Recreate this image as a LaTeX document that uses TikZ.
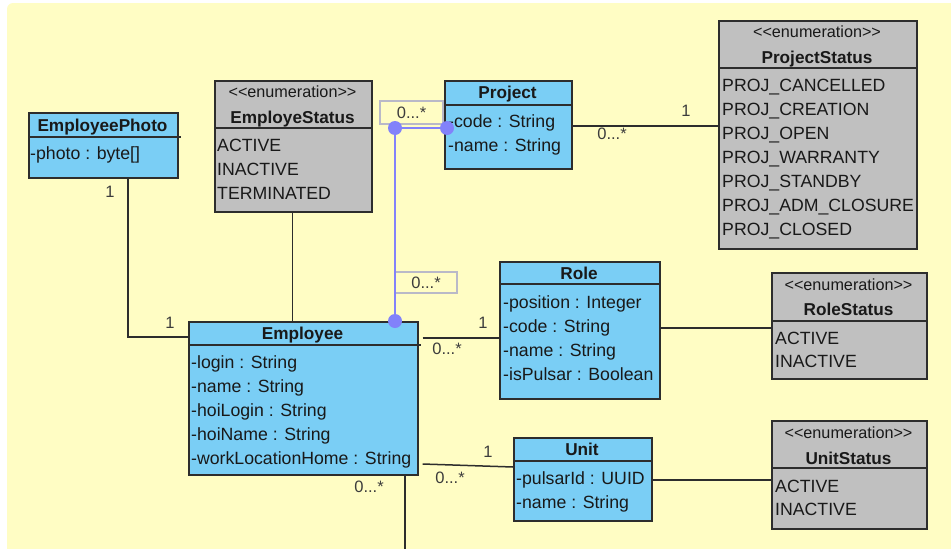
\documentclass[tikz,border=0pt]{standalone}
\usepackage{fontspec}
\setmainfont{Liberation Sans}
\usetikzlibrary{calc}

\definecolor{bgyellow}{RGB}{255,253,196}
\definecolor{clsblue}{RGB}{122,206,245}
\definecolor{enumgray}{RGB}{192,192,192}
\definecolor{boxline}{RGB}{45,45,45}
\definecolor{txt}{RGB}{25,25,25}
\definecolor{multtxt}{RGB}{60,60,60}
\definecolor{assocblue}{RGB}{130,130,250}
\definecolor{labelframe}{RGB}{185,185,200}

\tikzset{
  clsbox/.style={draw=boxline, line width=1.6pt, fill=clsblue, inner sep=0pt, anchor=north west},
  enumbox/.style={draw=boxline, line width=1.6pt, fill=enumgray, inner sep=0pt, anchor=north west},
  sepline/.style={draw=boxline, line width=1.6pt},
  member/.style={anchor=west, inner sep=0pt, text=txt, text height=12pt, text depth=0pt,
    font=\fontsize{17.7}{20}\selectfont},
  clstitle/.style={anchor=center, inner sep=0pt, text=txt, text height=12pt, text depth=0pt,
    font=\fontsize{17.2}{20}\selectfont\bfseries},
  stereo/.style={anchor=center, inner sep=0pt, text=txt, text height=9pt, text depth=0pt,
    font=\fontsize{16.2}{18}\selectfont},
  mult/.style={anchor=center, inner sep=0pt, text=multtxt, text height=11pt, text depth=0pt,
    font=\fontsize{16.5}{18}\selectfont},
  multframe/.style={draw=labelframe, line width=1.2pt, fill=bgyellow, inner sep=0pt,
    text=multtxt, font=\fontsize{16.5}{18}\selectfont},
  link/.style={draw=boxline, line width=1.5pt},
  pinlink/.style={draw=assocblue, line width=1.5pt},
  pin/.style={fill=assocblue},
}

\begin{document}
\begin{tikzpicture}[x=1pt, y=-1pt]
\useasboundingbox (0,0) rectangle (951,549);
\fill[white] (0,0) rectangle (951,549);
\begin{scope}
  \clip (0,0) rectangle (951,549);
  \fill[bgyellow, rounded corners=6pt] (7,3) rectangle (965,565);
\end{scope}

% ---------- EmployeePhoto ----------
\node[clsbox, minimum width=149pt, minimum height=65pt] (photo) at (28,112) {};
\draw[sepline] (photo.west |- 0,137) -- ([xshift=2pt]photo.east |- 0,137);
\node[clstitle] (photo-t) at (102.5,125.5) {EmployeePhoto};
\node[member] (photo-a1) at (30,153) {-photo : byte[]};

% ---------- EmployeStatus ----------
\node[enumbox, minimum width=157pt, minimum height=131pt] (estat) at (214,80) {};
\draw[sepline] (estat.west |- 0,128) -- (estat.east |- 0,128);
\node[stereo] (estat-s) at (292.5,93) {<{}<enumeration>{}>};
\node[clstitle] (estat-t) at (292.5,117.5) {EmployeStatus};
\node[member] (estat-1) at (217,145) {ACTIVE};
\node[member] (estat-2) at (217,169) {INACTIVE};
\node[member] (estat-3) at (217,193) {TERMINATED};

% ---------- Project ----------
\node[clsbox, minimum width=127pt, minimum height=88pt] (proj) at (444,80) {};
\draw[sepline] (proj.west |- 0,105) -- (proj.east |- 0,105);
\node[clstitle] (proj-t) at (507.5,92.5) {Project};
\node[member] (proj-a1) at (448,121.5) {-code : String};
\node[member] (proj-a2) at (448,145.5) {-name : String};

% ---------- ProjectStatus ----------
\node[enumbox, minimum width=198pt, minimum height=228pt] (pstat) at (718,20) {};
\draw[sepline] (pstat.west |- 0,68) -- (pstat.east |- 0,68);
\node[stereo] (pstat-s) at (817,33) {<{}<enumeration>{}>};
\node[clstitle] (pstat-t) at (817,57.5) {ProjectStatus};
\node[member] (pstat-1) at (722,85) {PROJ\_CANCELLED};
\node[member] (pstat-2) at (722,109) {PROJ\_CREATION};
\node[member] (pstat-3) at (722,133) {PROJ\_OPEN};
\node[member] (pstat-4) at (722,157) {PROJ\_WARRANTY};
\node[member] (pstat-5) at (722,181) {PROJ\_STANDBY};
\node[member] (pstat-6) at (722,205) {PROJ\_ADM\_CLOSURE};
\node[member] (pstat-7) at (722,229) {PROJ\_CLOSED};

% ---------- Employee ----------
\node[clsbox, minimum width=229pt, minimum height=153pt] (emp) at (188,321) {};
\draw[sepline] (emp.west |- 0,345) -- ([xshift=2pt]emp.east |- 0,345);
\node[clstitle] (emp-t) at (302.5,333) {Employee};
\node[member] (emp-a1) at (191,362) {-login : String};
\node[member] (emp-a2) at (191,386) {-name : String};
\node[member] (emp-a3) at (191,410) {-hoiLogin : String};
\node[member] (emp-a4) at (191,434) {-hoiName : String};
\node[member] (emp-a5) at (191,458) {-workLocationHome : String};

% ---------- Role ----------
\node[clsbox, minimum width=160pt, minimum height=137pt] (role) at (499,261) {};
\draw[sepline] (role.west |- 0,284) -- (role.east |- 0,284);
\node[clstitle] (role-t) at (579,273) {Role};
\node[member] (role-a1) at (503,302) {-position : Integer};
\node[member] (role-a2) at (503,326) {-code : String};
\node[member] (role-a3) at (503,350) {-name : String};
\node[member] (role-a4) at (503,374) {-isPulsar : Boolean};

% ---------- Unit ----------
\node[clsbox, minimum width=138pt, minimum height=83pt] (unit) at (513,437) {};
\draw[sepline] (unit.west |- 0,461) -- (unit.east |- 0,461);
\node[clstitle] (unit-t) at (582,449.5) {Unit};
\node[member] (unit-a1) at (516,478) {-pulsarId : UUID};
\node[member] (unit-a2) at (516,502) {-name : String};

% ---------- RoleStatus ----------
\node[enumbox, minimum width=155pt, minimum height=106pt] (rstat) at (771,272) {};
\draw[sepline] (rstat.west |- 0,321) -- (rstat.east |- 0,321);
\node[stereo] (rstat-s) at (848.5,286) {<{}<enumeration>{}>};
\node[clstitle] (rstat-t) at (848.5,309.5) {RoleStatus};
\node[member] (rstat-1) at (775,338) {ACTIVE};
\node[member] (rstat-2) at (775,361) {INACTIVE};

% ---------- UnitStatus ----------
\node[enumbox, minimum width=155pt, minimum height=108pt] (ustat) at (771,420) {};
\draw[sepline] (ustat.west |- 0,468) -- (ustat.east |- 0,468);
\node[stereo] (ustat-s) at (848.5,434) {<{}<enumeration>{}>};
\node[clstitle] (ustat-t) at (848.5,458.5) {UnitStatus};
\node[member] (ustat-1) at (775,486) {ACTIVE};
\node[member] (ustat-2) at (775,509.5) {INACTIVE};

% ---------- associations ----------
\coordinate (down-end) at (405,549);
\draw[link] (photo.south -| 128,0) -- (128,337) -- (emp.west |- 0,337);
\draw[link] (estat.south -| 292.5,0) -- (emp.north -| 292.5,0);
\draw[link] (proj.east |- 0,126) -- (pstat.west |- 0,126);
\draw[link] ([xshift=4pt]emp.east |- 0,338) -- (role.west |- 0,338);
\draw[link] ([xshift=4pt]emp.east |- 0,464) -- (unit.west |- 0,467);
\draw[link] (emp.south -| down-end) -- (down-end);
\draw[link] (role.east |- 0,328) -- (rstat.west |- 0,328);
\draw[link] (unit.east |- 0,480) -- (ustat.west |- 0,480);

% multiplicities
\node[mult] (m-photo) at (110,192) {1};
\node[mult] (m-photo-emp) at (170,323) {1};
\node[mult] (m-proj) at (612,134) {0...*};
\node[mult] (m-pstat) at (686,111) {1};
\node[mult] (m-emp-role) at (447,349) {0...*};
\node[mult] (m-role) at (483,323) {1};
\node[mult] (m-unit) at (488,452) {1};
\node[mult] (m-emp-unit) at (450,478) {0...*};
\node[mult] (m-emp-down) at (369,487) {0...*};

% project membership (selected association)
\node[multframe, minimum width=63pt, minimum height=23pt] (m-sel1) at (411.5,112.5) {0...*};
\node[multframe, minimum width=62pt, minimum height=21pt] (m-sel2) at (426,282.5) {0...*};
\coordinate (bend) at (395,128);
\draw[pinlink] (emp.north -| bend) -- (bend) -- ([xshift=3pt]proj.west |- bend);
\fill[pin] (emp.north -| bend) circle (7pt);
\fill[pin] (bend) circle (7pt);
\fill[pin] ([xshift=3pt]proj.west |- bend) circle (7pt);
\end{tikzpicture}
\end{document}
